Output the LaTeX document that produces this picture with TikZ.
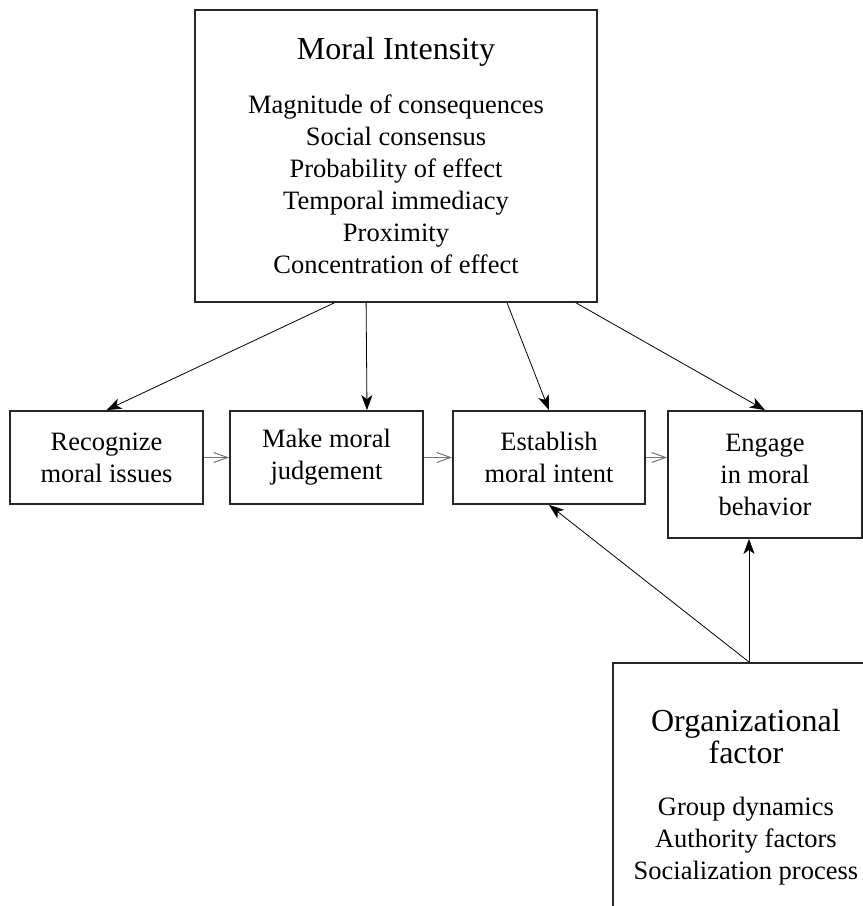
\documentclass[tikz,border=0pt]{standalone}
\usepackage{fontspec}
\setmainfont{Liberation Serif}
\usetikzlibrary{arrows.meta}

\tikzset{
  box/.style={draw=black!85, line width=1.8pt, align=center, inner sep=0pt,
    font=\fontsize{26.5}{32}\selectfont},
  pull/.style={-{Stealth[length=15pt,width=11pt,inset=4pt]}, line width=0.8pt},
  flow/.style={-{Straight Barb[length=14pt,width=10pt]}, black!55, line width=1pt},
}
\newcommand{\boxtitle}[1]{{\fontsize{32}{38}\selectfont #1}}

\begin{document}
\begin{tikzpicture}[x=1pt,y=-1pt]
\path[use as bounding box, clip] (0,0) rectangle (863,906);

% moral intensity
\node[box, minimum width=402pt, minimum height=292pt] (mi) at (396,156)
  {\boxtitle{Moral Intensity}\\[22pt]
   Magnitude of consequences\\ Social consensus\\ Probability of effect\\
   Temporal immediacy\\ Proximity\\ Concentration of effect};

% the four stages
\node[box, minimum width=193pt, minimum height=93pt] (rec) at (106.5,457.5) {Recognize\\moral issues};
\node[box, minimum width=193pt, minimum height=93pt] (make) at (326.5,457.5) {Make moral\\judgement};
\node[box, minimum width=192pt, minimum height=93pt] (est) at (549,457.5) {Establish\\moral intent};
\node[box, minimum width=194pt, minimum height=127pt] (eng) at (765,474.5) {Engage\\in moral\\behavior};

% organizational factor
\node[box, minimum width=266pt, minimum height=268pt, anchor=north west] (org) at (612,662)
  {\boxtitle{Organizational}\\ \boxtitle{factor}\\[20pt]
   Group dynamics\\ Authority factors\\ Socialization process};

\draw[pull] ([xshift=140pt]mi.south west) -- (rec.north);
\draw[pull] ([xshift=172pt]mi.south west) -- ([xshift=40.5pt]make.north);
\draw[pull] ([xshift=313pt]mi.south west) -- (est.north);
\draw[pull] ([xshift=382pt]mi.south west) -- (eng.north);

\draw[flow] (rec.east) -- (make.west);
\draw[flow] (make.east) -- (est.west);
\draw[flow] (est.east) -- (est.east -| eng.west);

\draw[pull] ([xshift=137pt]org.north west) -- ([xshift=-16pt]eng.south);
\draw[pull] ([xshift=137pt]org.north west) -- (est.south);

\end{tikzpicture}
\end{document}
